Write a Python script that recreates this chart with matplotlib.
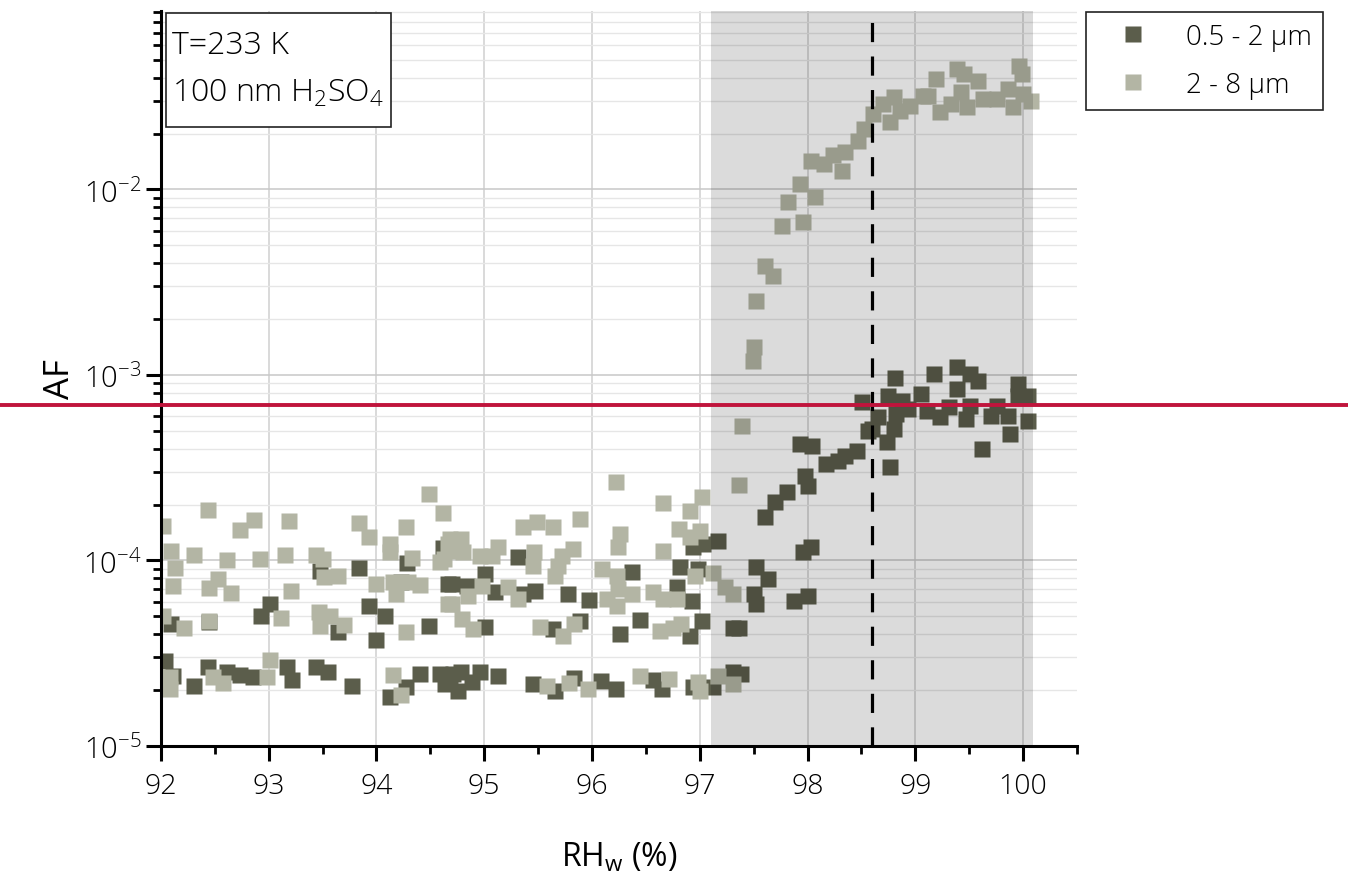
import matplotlib
matplotlib.use("Agg")
import matplotlib.pyplot as plt
from matplotlib.patches import Rectangle
from matplotlib.ticker import LogLocator, MultipleLocator, NullFormatter

plt.rcParams['font.family'] = ['Open Sans', 'DejaVu Sans']
plt.rcParams['font.weight'] = 'light'
plt.rcParams['mathtext.default'] = 'regular'

# ---------------- data ----------------
series_labels = ["0.5 - 2 \u00b5m", "2 - 8 \u00b5m"]

rh_small = [92.04, 92.11, 92.09, 92.31, 92.44, 92.45, 92.61, 92.73, 92.85, 92.93,
            93.01, 93.17, 93.22, 93.44, 93.55, 93.48, 93.64, 93.77, 93.84, 93.93,
            94.08, 94.00, 94.13, 94.27, 94.40, 94.23, 94.28, 94.49, 94.59, 94.64,
            94.62, 94.66, 95.31, 95.01, 94.70, 94.84, 95.10, 95.01, 95.47, 95.36,
            95.78, 95.97, 95.64, 95.89, 96.26, 96.37, 96.45, 96.82, 96.98, 96.79,
            96.93, 97.02, 96.91, 96.94, 97.03, 97.17, 97.31, 94.68, 94.78, 94.76,
            94.89, 94.96, 95.13, 95.45, 95.66, 95.83, 96.08, 96.22, 96.57, 96.65,
            96.94, 97.12, 97.31, 94.71, 97.52, 97.63, 97.50, 97.52, 97.36, 97.38,
            97.87, 98.00, 98.03, 97.96, 97.61, 97.70, 97.81, 98.00, 97.98, 97.93,
            98.04, 98.17, 98.28, 98.35, 98.46, 98.56, 98.51, 98.65, 98.60, 98.74,
            98.77, 98.80, 98.82, 98.75, 98.88, 98.93, 98.81, 99.05, 99.11, 99.23,
            99.31, 99.17, 99.39, 99.39, 99.51, 99.58, 99.51, 99.47, 99.62, 99.70,
            99.76, 99.86, 99.88, 99.95, 99.95, 100.05, 100.05]
af_small = [2.87e-5, 2.39e-5, 4.55e-5, 2.11e-5, 2.67e-5, 4.66e-5, 2.51e-5, 2.41e-5, 2.36e-5, 5.02e-5,
            5.83e-5, 2.67e-5, 2.27e-5, 2.67e-5, 2.51e-5, 8.78e-5, 4.12e-5, 2.11e-5, 9.12e-5, 5.69e-5,
            5.02e-5, 3.73e-5, 1.84e-5, 2.08e-5, 2.44e-5, 7.66e-5, 9.70e-5, 4.44e-5, 2.44e-5, 2.16e-5,
            1.17e-4, 7.47e-5, 1.04e-4, 8.46e-5, 7.47e-5, 7.29e-5, 6.76e-5, 4.38e-5, 6.85e-5, 6.60e-5,
            6.60e-5, 6.12e-5, 4.27e-5, 4.72e-5, 4.02e-5, 8.67e-5, 4.78e-5, 9.23e-5, 9.00e-5, 7.20e-5,
            6.05e-5, 4.72e-5, 3.92e-5, 1.18e-4, 1.23e-4, 1.27e-4, 4.33e-5, 2.39e-5, 2.51e-5, 1.98e-5,
            2.21e-5, 2.51e-5, 2.39e-5, 2.16e-5, 1.98e-5, 2.33e-5, 2.24e-5, 2.03e-5, 2.27e-5, 2.03e-5,
            2.08e-5, 2.08e-5, 2.51e-5, 2.44e-5, 9.23e-5, 7.95e-5, 6.60e-5, 5.83e-5, 4.33e-5, 2.44e-5,
            6.05e-5, 6.44e-5, 1.18e-4, 1.11e-4, 1.72e-4, 2.07e-4, 2.34e-4, 2.52e-4, 2.86e-4, 4.25e-4,
            4.14e-4, 3.31e-4, 3.44e-4, 3.66e-4, 3.89e-4, 4.99e-4, 7.15e-4, 5.94e-4, 5.12e-4, 4.35e-4,
            3.19e-4, 5.12e-4, 6.16e-4, 7.71e-4, 7.24e-4, 6.56e-4, 9.64e-4, 7.90e-4, 6.40e-4, 5.94e-4,
            6.72e-4, 1.01e-3, 1.10e-3, 8.41e-4, 1.01e-3, 9.29e-4, 6.81e-4, 5.79e-4, 3.99e-4, 6.01e-4,
            6.81e-4, 6.01e-4, 4.81e-4, 8.94e-4, 7.71e-4, 7.71e-4, 5.65e-4]

rh_large = [92.02, 92.44, 92.86, 92.73, 93.19, 92.09, 92.31, 92.61, 92.92, 93.15,
            92.13, 92.11, 92.53, 92.45, 92.65, 93.21, 92.02, 92.21, 92.45, 93.11,
            92.08, 92.08, 92.48, 92.58, 92.98, 93.01, 93.44, 93.50, 93.51, 93.64,
            93.47, 93.57, 93.48, 93.70, 93.84, 93.93, 94.13, 94.13, 94.00, 94.15,
            94.18, 94.33, 94.29, 94.40, 94.27, 94.49, 94.62, 94.66, 94.59, 94.66,
            94.27, 94.15, 94.23, 94.68, 94.78, 94.68, 94.63, 94.80, 94.96, 95.13,
            95.07, 94.98, 94.85, 94.70, 94.79, 94.90, 95.22, 95.31, 95.36, 95.49,
            95.64, 95.89, 95.46, 95.45, 95.72, 95.82, 95.66, 95.68, 95.52, 95.73,
            95.83, 95.58, 95.79, 95.96, 96.22, 96.26, 96.24, 96.09, 96.23, 96.24,
            96.14, 96.23, 96.37, 96.57, 96.66, 96.79, 96.66, 96.66, 96.91, 97.02,
            96.81, 96.91, 97.00, 96.96, 96.63, 96.75, 96.83, 96.45, 96.71, 96.98,
            97.00, 97.12, 97.23, 97.31, 97.17, 97.31, 97.36, 97.39, 97.49, 97.50,
            97.52, 97.61, 97.68, 97.76, 97.82, 97.96, 97.93, 98.07, 98.03, 98.15,
            98.24, 98.35, 98.32, 98.47, 98.52, 98.61, 98.70, 98.80, 98.77, 98.86,
            98.95, 99.07, 99.19, 99.12, 99.23, 99.33, 99.39, 99.45, 99.42, 99.48,
            99.58, 99.63, 99.76, 99.86, 99.91, 99.96, 99.99, 100.07, 100.00]
af_large = [1.53e-4, 1.87e-4, 1.65e-4, 1.46e-4, 1.63e-4, 1.13e-4, 1.07e-4, 1.01e-4, 1.02e-4, 1.07e-4,
            9.12e-5, 7.29e-5, 7.95e-5, 7.11e-5, 6.68e-5, 6.85e-5, 5.02e-5, 4.33e-5, 4.72e-5, 4.90e-5,
            2.36e-5, 2.03e-5, 2.36e-5, 2.19e-5, 2.36e-5, 2.91e-5, 1.07e-4, 1.02e-4, 8.15e-5, 8.25e-5,
            5.28e-5, 5.02e-5, 4.44e-5, 4.49e-5, 1.59e-4, 1.34e-4, 1.23e-4, 1.11e-4, 7.47e-5, 7.66e-5,
            6.60e-5, 1.03e-4, 7.66e-5, 7.38e-5, 1.52e-4, 2.28e-4, 1.80e-4, 1.23e-4, 9.82e-5, 5.83e-5,
            4.12e-5, 2.41e-5, 1.88e-5, 1.31e-4, 1.31e-4, 1.13e-4, 1.02e-4, 1.11e-4, 1.06e-4, 1.18e-4,
            1.06e-4, 7.29e-5, 6.44e-5, 5.83e-5, 4.84e-5, 4.27e-5, 7.20e-5, 6.20e-5, 1.52e-4, 1.61e-4,
            1.52e-4, 1.67e-4, 1.11e-4, 9.34e-5, 1.06e-4, 1.15e-4, 8.25e-5, 9.34e-5, 4.38e-5, 3.92e-5,
            4.55e-5, 2.11e-5, 2.19e-5, 2.03e-5, 2.65e-4, 1.39e-4, 1.18e-4, 9.00e-5, 8.25e-5, 7.02e-5,
            6.20e-5, 5.69e-5, 6.60e-5, 6.76e-5, 6.20e-5, 6.20e-5, 1.13e-4, 2.04e-4, 1.85e-4, 2.20e-4,
            1.48e-4, 1.34e-4, 1.44e-4, 8.25e-5, 4.17e-5, 4.33e-5, 4.55e-5, 2.39e-5, 2.30e-5, 2.21e-5,
            1.98e-5, 8.56e-5, 7.20e-5, 6.60e-5, 2.39e-5, 2.16e-5, 2.55e-4, 5.31e-4, 1.19e-3, 1.42e-3,
            2.51e-3, 3.87e-3, 3.42e-3, 6.36e-3, 8.57e-3, 6.68e-3, 1.07e-2, 9.12e-3, 1.42e-2, 1.37e-2,
            1.53e-2, 1.59e-2, 1.26e-2, 1.82e-2, 2.12e-2, 2.55e-2, 2.89e-2, 3.15e-2, 2.31e-2, 2.65e-2,
            2.82e-2, 3.19e-2, 3.94e-2, 3.19e-2, 2.62e-2, 2.89e-2, 4.47e-2, 4.20e-2, 3.36e-2, 2.79e-2,
            3.85e-2, 3.08e-2, 3.08e-2, 3.48e-2, 2.79e-2, 4.63e-2, 4.20e-2, 3.00e-2, 3.27e-2]

shade_range = (97.1, 100.09)   # RHw range of grey band
rh_dashed = 98.6               # dashed vertical line
af_threshold = 6.85e-4         # red horizontal line

x_ticks = [92, 93, 94, 95, 96, 97, 98, 99, 100]

# ---------------- figure ----------------
fig = plt.figure(figsize=(13.48, 8.79), dpi=100)
ax = fig.add_axes([0.1194, 0.1502, 0.6795, 0.8361])

c_dark = '#5b5d4b'
c_light = '#b3b5a4'

ax.plot(rh_small, af_small, 's', ms=11, color=c_dark, mec='none', zorder=2, label=series_labels[0])
ax.plot(rh_large, af_large, 's', ms=11, color=c_light, mec='none', zorder=2.1, label=series_labels[1])

ax.set_yscale('log')
ax.set_xlim(92, 100.5)
ax.set_ylim(1e-5, 0.0916)

# grey band drawn over points
ax.axvspan(*shade_range, facecolor='black', alpha=0.14, lw=0, zorder=3)
ax.axvline(rh_dashed, color='black', lw=2.3, ls=(0, (6, 4.5)), zorder=4)
ax.axhline(af_threshold, xmin=-0.2, xmax=1.35, color='#c0143c', lw=2.8,
           clip_on=False, zorder=5)

# ticks and grid
ax.set_xticks(x_ticks)
ax.xaxis.set_minor_locator(MultipleLocator(0.5))
ax.yaxis.set_major_locator(LogLocator(base=10, numticks=10))
ax.yaxis.set_minor_locator(LogLocator(base=10, subs=range(2, 10), numticks=50))
ax.yaxis.set_minor_formatter(NullFormatter())

ax.grid(True, which='major', axis='x', color='#cfcfcf', lw=1.1, zorder=0)
ax.grid(True, which='major', axis='y', color='#c8c8c8', lw=1.1, zorder=0)
ax.grid(True, which='minor', axis='y', color='#e6e6e6', lw=1.0, zorder=0)
ax.set_axisbelow(True)

for s in ['top', 'right']:
    ax.spines[s].set_visible(False)
for s in ['left', 'bottom']:
    ax.spines[s].set_linewidth(2.2)

ax.tick_params(which='major', direction='out', length=11, width=2.2, pad=7)
ax.tick_params(which='minor', direction='out', length=6, width=2.0)
ax.tick_params(axis='x', which='major', labelsize=20.5, pad=8)
ax.tick_params(axis='y', which='major', labelsize=21, pad=3)

ax.set_xlabel('RH$_w$ (%)', fontsize=23)
ax.set_ylabel('AF', fontsize=25)
ax.xaxis.set_label_coords(0.5, -0.128)
ax.yaxis.set_label_coords(-0.092, 0.5)

# annotation box
ax.add_patch(Rectangle((0.0055, 0.842), 0.2456, 0.155, transform=ax.transAxes,
                       facecolor='white', edgecolor='#222222', lw=1.2, zorder=6))
ax.text(0.012, 0.943, 'T=233 K', transform=ax.transAxes, fontsize=23, zorder=7,
        va='baseline', ha='left')
ax.text(0.012, 0.878, '100 nm H$_2$SO$_4$', transform=ax.transAxes, fontsize=23, zorder=7,
        va='baseline', ha='left')

leg = ax.legend(loc='upper left', bbox_to_anchor=(0.8056, 0.9852), bbox_transform=fig.transFigure,
                fontsize=20, frameon=True, fancybox=False, framealpha=1, edgecolor='#222222',
                handlelength=2.6, handletextpad=0.6, borderpad=0.4, labelspacing=0.7,
                borderaxespad=0, markerscale=1.0)
leg.get_frame().set_linewidth(1.2)

fig.savefig('out.png', dpi=100)
